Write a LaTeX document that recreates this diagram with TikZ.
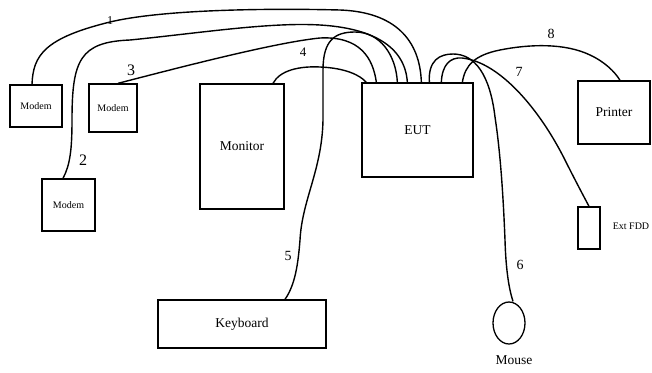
\documentclass[tikz,border=0pt]{standalone}
\usepackage{fontspec}
\setmainfont{Liberation Serif}
\usetikzlibrary{shapes.geometric}

\begin{document}
\begin{tikzpicture}[x=1pt, y=-1pt,
    box/.style={draw, line width=1.3pt, inner sep=0pt, font=\fontsize{13.5}{15}\selectfont},
    smallbox/.style={box, font=\fontsize{10}{12}\selectfont},
    cable/.style={line width=1.4pt},
    num/.style={font=\fontsize{14}{16}\selectfont}]
        \useasboundingbox (0,0) rectangle (652,372);

        % Draw the devices
        \node[smallbox, minimum width=52, minimum height=42] (modemA) at (36,106) {Modem};
        \node[smallbox, minimum width=48, minimum height=48] (modemC) at (113,108) {Modem};
        \node[smallbox, minimum width=53, minimum height=52] (modemB) at (68.5,205) {Modem};
        \node[box, minimum width=84, minimum height=125] (monitor) at (242,146.5) {Monitor};
        \node[box, minimum width=111, minimum height=94] (eut) at (417.5,130) {EUT};
        \node[box, minimum width=72, minimum height=63] (printer) at (614,112.5) {Printer};
        \node[box, minimum width=22, minimum height=42] (fdd) at (589,228) {};
        \node[font=\fontsize{10}{12}\selectfont] (fddlabel) at (631,226) {Ext FDD};
        \node[box, minimum width=168, minimum height=48] (keyboard) at (242,324) {Keyboard};
        \node[draw, ellipse, line width=1.3pt, minimum width=32, minimum height=42, inner sep=0pt] (mouse) at (509,323) {};
        \node[font=\fontsize{13.5}{15}\selectfont] (mouselabel) at (514,360) {Mouse};

        % Draw the cables to the modems
        \draw[cable] ([xshift=-4pt]modemA.north) .. controls (33,55) and (45,38) .. (110,22)
            .. controls (160,10) and (260,8) .. (340,10)
            .. controls (395,12) and (420,40) .. ([xshift=60pt]eut.north west);
        \draw[cable] ([xshift=-5.5pt]modemB.north) .. controls (70,165) and (72,150) .. (72,120)
            .. controls (72,60) and (80,42) .. (130,40)
            .. controls (200,33) and (270,22) .. (320,25)
            .. controls (370,28) and (405,45) .. ([xshift=46pt]eut.north west);
        \draw[cable] ([xshift=5pt]modemC.north) .. controls (200,62) and (280,42) .. (320,38)
            .. controls (360,36) and (373,58) .. ([xshift=15pt]eut.north west);

        % Draw the monitor and keyboard cables
        \draw[cable] ([xshift=31pt]monitor.north) .. controls (280,70) and (300,66) .. (320,67)
            .. controls (345,68) and (360,75) .. ([xshift=5pt]eut.north west);
        \draw[cable] ([xshift=43pt]keyboard.north) .. controls (295,285) and (298,265) .. (300,240)
            .. controls (302,200) and (322,170) .. (323,120) -- (323,70)
            .. controls (323,40) and (335,32) .. (355,32)
            .. controls (380,32) and (396,55) .. ([xshift=36pt]eut.north west);

        % Draw the mouse, floppy and printer cables
        \draw[cable] ([xshift=68pt]eut.north west) .. controls (428,60) and (440,54) .. (453,54)
            .. controls (475,54) and (490,75) .. (495,117)
            .. controls (500,150) and (503,190) .. (505,240)
            .. controls (506,275) and (510,292) .. ([xshift=4pt]mouse.north);
        \draw[cable] ([xshift=80pt]eut.north west) .. controls (442,65) and (450,57) .. (462,58)
            .. controls (500,62) and (540,110) .. (565,160)
            .. controls (575,180) and (583,195) .. (fdd.north);
        \draw[cable] ([xshift=101pt]eut.north west) .. controls (465,65) and (475,55) .. (500,50)
            .. controls (530,44) and (565,43) .. (590,55)
            .. controls (605,62) and (615,72) .. ([xshift=6pt]printer.north);

        % Add cable numbers
        \node[num, font=\fontsize{12}{14}\selectfont] (n1) at (110,21) {1};
        \node[num, font=\fontsize{16}{18}\selectfont] (n2) at (83,160) {2};
        \node[num, font=\fontsize{16}{18}\selectfont] (n3) at (131,70) {3};
        \node[num, font=\fontsize{13}{15}\selectfont] (n4) at (303,52) {4};
        \node[num] (n5) at (288,256) {5};
        \node[num] (n6) at (520,265) {6};
        \node[num] (n7) at (519,72) {7};
        \node[num] (n8) at (551,34) {8};
      \end{tikzpicture}
\end{document}
